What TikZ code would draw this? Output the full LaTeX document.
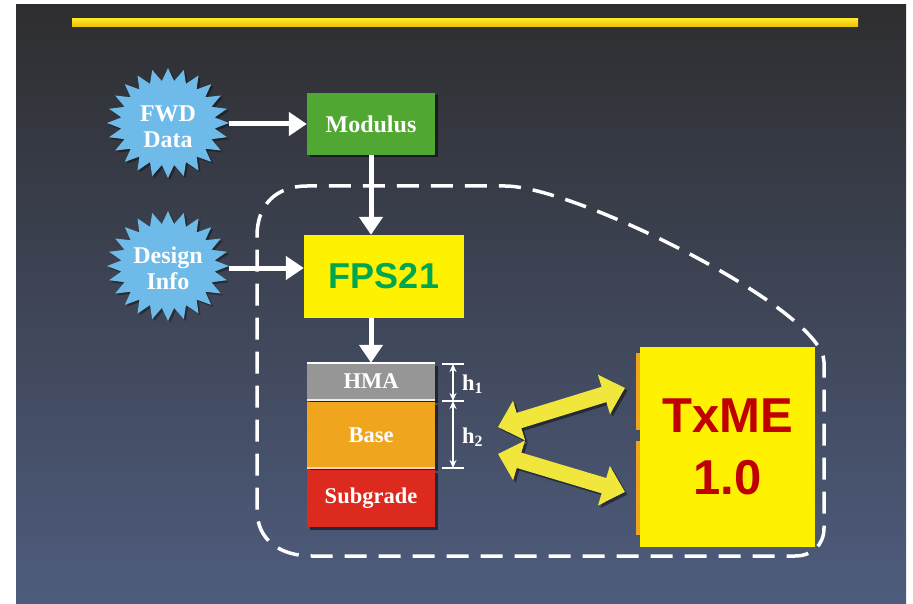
\documentclass[tikz,border=0pt]{standalone}
\usepackage{fontspec}
\setmainfont{Liberation Serif}
\setsansfont{Liberation Sans}
\usetikzlibrary{arrows.meta,calc,shadows}
\definecolor{bgtop}{RGB}{46,46,48}
\definecolor{bgmid}{RGB}{62,66,80}
\definecolor{bgbot}{RGB}{78,92,125}
\definecolor{goldA}{RGB}{255,228,40}
\definecolor{goldB}{RGB}{235,190,0}
\definecolor{burstblue}{RGB}{110,186,232}
\definecolor{modgreen}{RGB}{80,168,50}
\definecolor{fpsgreen}{RGB}{0,166,80}
\definecolor{txred}{RGB}{192,0,0}
\definecolor{hmagray}{RGB}{150,150,150}
\definecolor{baseorange}{RGB}{240,165,30}
\definecolor{subred}{RGB}{220,42,30}
\definecolor{arrowyellow}{RGB}{240,230,60}
\newcommand{\burstshape}[2]{%
  \fill[black,opacity=0.35] (#1+63,#2+2) \foreach \k in {1,...,47}{ -- ({#1+2+(54+7*cos(\k*180))*cos(\k*7.5)}, {#2+2+0.9*(54+7*cos(\k*180))*sin(\k*7.5)}) } -- cycle;
  \fill[burstblue] (#1+61,#2) \foreach \k in {1,...,47}{ -- ({#1+(54+7*cos(\k*180))*cos(\k*7.5)}, {#2+0.9*(54+7*cos(\k*180))*sin(\k*7.5)}) } -- cycle;
}
\tikzset{
  lbl/.style={text=white, font=\bfseries\fontsize{22.5}{27}\selectfont, align=center, inner sep=0pt},
  burstlbl/.style={lbl, font=\bfseries\fontsize{24}{26}\selectfont, minimum width=122pt, minimum height=110pt},
  boxshadow/.style={drop shadow={shadow xshift=2.5pt, shadow yshift=-2.5pt, opacity=0.5, fill=black}},
  layer/.style={lbl, minimum width=128pt, boxshadow, inner sep=0pt},
  warrow/.style={draw=white, line width=5pt, -{Triangle[width=23pt,length=18pt]}},
  yarrow/.style={draw=arrowyellow, line width=16pt, {Triangle[width=40pt,length=22pt]}-{Triangle[width=40pt,length=22pt]}},
  yshadow/.style={draw=black, opacity=0.45, line width=16pt, {Triangle[width=40pt,length=22pt]}-{Triangle[width=40pt,length=22pt]}, transform canvas={shift={(2.5pt,-2.5pt)}}},
  dimline/.style={draw=white, line width=1.6pt},
  dimarrow/.style={dimline, {Stealth[length=8pt,width=7pt]}-{Stealth[length=8pt,width=7pt]}},
  boundary/.style={draw=white, line width=3.5pt, dash pattern=on 22pt off 12pt}
}
\begin{document}
\begin{tikzpicture}[x=1pt,y=-1pt]
\useasboundingbox (0,0) rectangle (913,604);
\fill[white] (0,0) rectangle (913,604);
\shade[top color=bgtop, middle color=bgmid, bottom color=bgbot] (16,5) rectangle (906,604);
% top rule
\shade[top color=goldA, bottom color=goldB] (72,19) rectangle (858,27);
% dashed boundary
\draw[boundary] (257,236) .. controls (257,205) and (276,186) .. (307,186) -- (505,186)
  .. controls (575,186) and (824,310) .. (824,362) -- (824,528)
  .. controls (824,545) and (812,556) .. (795,556) -- (312,556)
  .. controls (280,556) and (257,540) .. (257,510) -- cycle;
% starbursts
\burstshape{168}{123}
\burstshape{168}{266}
\node[burstlbl] (fwd) at (168,127) {FWD\\Data};
\node[burstlbl] (design) at (168,268) {Design\\Info};
% boxes
\node[lbl, font=\bfseries\fontsize{24}{27}\selectfont, fill=modgreen, minimum width=128pt, minimum height=62pt, boxshadow] (mod) at (371,124) {Modulus};
\node[fill=yellow, minimum width=160pt, minimum height=83pt, font=\sffamily\bfseries\fontsize{36}{40}\selectfont, text=fpsgreen] (fps) at (384,276.5) {FPS21};
% layers
\node[layer, fill=hmagray, minimum height=37pt] (hma) at (371,381.5) {HMA};
\node[layer, fill=baseorange, minimum height=66pt] (base) at (371,435) {Base};
\node[layer, fill=subred, minimum height=57pt] (sub) at (371,498.5) {Subgrade};
\draw[white, line width=2.5pt] (hma.north west) -- (hma.north east);
\draw[white!85!gray, line width=2.5pt] (hma.south west) -- (hma.south east);
\draw[white!80!red, line width=2.5pt] (base.south west) -- (base.south east);
% dimensions
\coordinate (t0) at (453,364);
\coordinate (t1) at (453,401);
\coordinate (t2) at (453,468);
\draw[dimline] ($(t0)+(-11,0)$) -- ($(t0)+(11,0)$);
\draw[dimline] ($(t1)+(-11,0)$) -- ($(t1)+(11,0)$);
\draw[dimline] ($(t2)+(-11,0)$) -- ($(t2)+(11,0)$);
\draw[dimarrow] (t0) -- (t1);
\draw[dimarrow] (t1) -- (t2);
\node[lbl, anchor=west] (h1) at (462,384) {h\textsubscript{1}};
\node[lbl, anchor=west] (h2) at (462,437) {h\textsubscript{2}};
% TxME
\fill[baseorange] (636,353) rectangle (641,430);
\fill[baseorange] (636,441) rectangle (641,535);
\node[fill=yellow, minimum width=175pt, minimum height=200pt, align=center, font=\sffamily\bfseries\fontsize{49}{62}\selectfont, text=txred] (txme) at (727.5,447) {TxME\\1.0};
% white arrows
\draw[warrow] (mod.west -| fwd.east) -- (mod.west);
\draw[warrow] (design.east) -- (design.east -| fps.west);
\draw[warrow] (mod.south) -- (mod.south |- fps.north);
\draw[warrow] (hma.north |- fps.south) -- (hma.north);
% yellow double arrows
\coordinate (a1l) at (498,427);
\coordinate (a1r) at (625,388);
\coordinate (a2l) at (498,454);
\coordinate (a2r) at (625,492);
\draw[yshadow] (a1l) -- (a1r);
\draw[yshadow] (a2l) -- (a2r);
\draw[yarrow] (a1l) -- (a1r);
\draw[yarrow] (a2l) -- (a2r);
\end{tikzpicture}
\end{document}
